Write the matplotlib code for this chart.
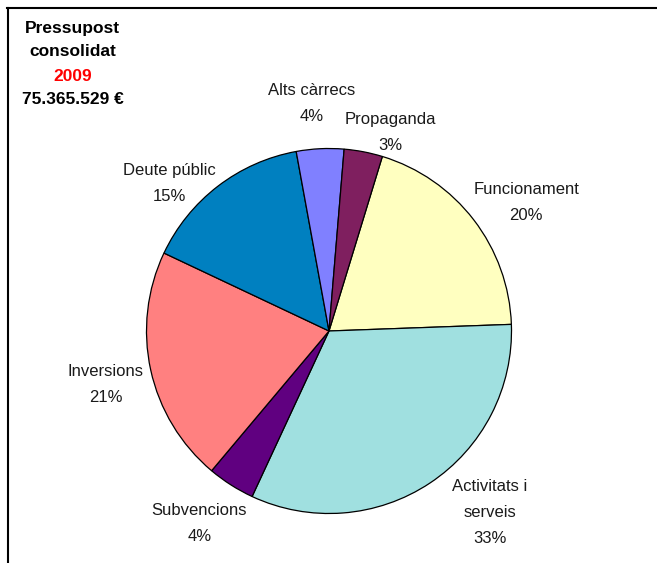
import numpy as np
import matplotlib
matplotlib.use("Agg")
import matplotlib.pyplot as plt
from matplotlib.lines import Line2D

plt.rcParams['font.family'] = ['Liberation Sans', 'DejaVu Sans']

# Dades (ordre del pastís, en sentit horari)
categories = ['Funcionament', 'Activitats i\nserveis', 'Subvencions', 'Inversions',
              'Deute públic', 'Alts càrrecs', 'Propaganda']
valors = [19.7, 32.5, 4.2, 20.9, 15.1, 4.2, 3.4]
percentatges = ['20%', '33%', '4%', '21%', '15%', '4%', '3%']
colors = ['#FFFFC0', '#A0E0E0', '#600080', '#FF8080', '#0080C0', '#8080FF', '#7F1F5F']

# Posició de les etiquetes (distància i desplaçament angular respecte al centre del sector)
dist_etiqueta = [1.29, 1.33, 1.27, 1.26, 1.19, 1.25, 1.14]
gir_etiqueta = [4.5, -8, 1.5, -1.2, -9.6, -1.6, 6.2]

W, H, DPI = 657, 563, 100
fig = plt.figure(figsize=(W / DPI, H / DPI), dpi=DPI)
ax = fig.add_axes([0, 0, 1, 1])

wedges, _ = ax.pie(valors, colors=colors, startangle=73, counterclock=False,
                   wedgeprops=dict(edgecolor='black', linewidth=0.9))

for w, cat, pct, d, g in zip(wedges, categories, percentatges, dist_etiqueta, gir_etiqueta):
    ang = np.deg2rad((w.theta1 + w.theta2) / 2 - g)
    ax.text(d * np.cos(ang), d * np.sin(ang), f"{cat}\n{pct}", ha='center', va='center',
            fontsize=12, linespacing=1.9, color='#1a1a1a')

# escala: 1 unitat = 182.5 px, centre a (329, 331)
r = 182.5
ax.set_aspect('auto')
ax.set_xlim(-329 / r, (W - 329) / r)
ax.set_ylim(-(H - 331) / r, 331 / r)
ax.axis('off')

# Títol
fig.text(72.5 / W, 1 - 28 / H, 'Pressupost', ha='center', va='center', fontsize=12.5, fontweight='bold')
fig.text(72.5 / W, 1 - 52 / H, 'consolidat', ha='center', va='center', fontsize=12.5, fontweight='bold')
fig.text(72.5 / W, 1 - 77 / H, '2009', ha='center', va='center', fontsize=12.5, fontweight='bold', color='red')
fig.text(72.5 / W, 1 - 100 / H, '75.365.529 €', ha='center', va='center', fontsize=12.5, fontweight='bold')

# Marc
fig.add_artist(Line2D([7 / W, 1], [1 - 7.5 / H, 1 - 7.5 / H], color='black', linewidth=1.5))
fig.add_artist(Line2D([7.5 / W, 7.5 / W], [0, 1 - 7.5 / H], color='black', linewidth=1.5))

fig.savefig('out.png', dpi=DPI)
